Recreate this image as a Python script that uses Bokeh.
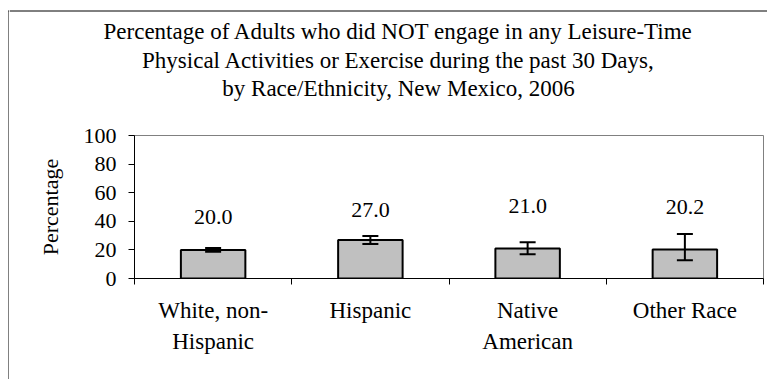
from bokeh.plotting import figure
from bokeh.layouts import row, column
from bokeh.models import (ColumnDataSource, Range1d, FixedTicker, Whisker, TeeHead,
                          LinearAxis)
from bokeh.embed import file_html
from bokeh.resources import INLINE
from bokeh.core.properties import value

# ---------------- data ----------------
categories = ["White, non-\nHispanic", "Hispanic", "Native\nAmerican", "Other Race"]
percentages = [20.0, 27.0, 21.0, 20.2]
ci_lower = [18.7, 24.2, 16.9, 12.7]
ci_upper = [21.3, 29.7, 25.3, 31.2]
y_ticks = [0, 20, 40, 60, 80, 100]
title_lines = [
    "Percentage of Adults who did NOT engage in any Leisure-Time",
    "Physical Activities or Exercise during the past 30 Days,",
    "by Race/Ethnicity, New Mexico, 2006",
]
y_label = "Percentage"

# ---------------- style / layout ----------------
FONT = "Liberation Serif"
W, H = 767, 379
STRIP_W = 9          # left strip holding the outer chart border line
TITLE_H = 110
MAIN_H = H - TITLE_H
COL_W = W - STRIP_W

positions = list(range(len(categories)))
boundaries = [i - 0.5 for i in range(len(categories) + 1)]
label_dy = [-33, -30, -42, -43]   # pixel offsets of value labels above bar tops

src = ColumnDataSource(dict(
    x=positions, top=percentages, lower=ci_lower, upper=ci_upper,
    label=[f"{v:.1f}" for v in percentages], dy=label_dy,
))


def blank_fig(w, h, xr, yr):
    f = figure(width=w, height=h, output_backend="svg", toolbar_location=None,
               x_range=xr, y_range=yr, x_axis_type=None, y_axis_type=None,
               min_border=0, frame_align=False)
    f.outline_line_color = None
    f.background_fill_color = "white"
    f.border_fill_color = "white"
    return f


# --- left strip: outer border (vertical line) ---
strip = blank_fig(STRIP_W, H, Range1d(0, STRIP_W), Range1d(H, 0))
strip.segment(x0=[8.5, 8], y0=[10, 10.5], x1=[8.5, STRIP_W], y1=[H, 10.5],
              line_color="black", line_width=1)

# --- title area ---
tfig = blank_fig(COL_W, TITLE_H, Range1d(STRIP_W, W), Range1d(TITLE_H, 0))
tfig.segment(x0=[STRIP_W], y0=[10.5], x1=[W], y1=[10.5], line_color="black", line_width=1)
tsrc = ColumnDataSource(dict(x=[398] * len(title_lines), y=[30.5, 59.5, 88],
                             text=title_lines))
tfig.text(x="x", y="y", text="text", source=tsrc, text_align="center",
          text_baseline="middle", text_font=value(FONT), text_font_size="23px",
          text_color="black")

# --- main chart ---
p = figure(width=COL_W, height=MAIN_H, output_backend="svg", toolbar_location=None,
           x_range=Range1d(-0.5, len(categories) - 0.5), y_range=Range1d(0, 100),
           x_axis_type=None, y_axis_type=None, frame_align=False,
           min_border_left=125, min_border_right=4, min_border_top=135 - TITLE_H,
           min_border_bottom=MAIN_H - (135 - TITLE_H) - 143)
p.outline_line_color = "#808080"
p.outline_line_width = 1
p.background_fill_color = "white"
p.border_fill_color = "white"

p.vbar(x="x", top="top", bottom=0, width=0.41, source=src,
       fill_color="#C0C0C0", line_color="black", line_width=2)

w = Whisker(base="x", upper="upper", lower="lower", source=src, level="overlay",
            line_color="black", line_width=2,
            upper_head=TeeHead(size=16, line_width=2, line_color="black"),
            lower_head=TeeHead(size=16, line_width=2, line_color="black"))
p.add_layout(w)

p.text(x="x", y="top", text="label", y_offset="dy", source=src,
       text_align="center", text_baseline="middle",
       text_font=value(FONT), text_font_size="22px", text_color="black")

yaxis = LinearAxis(ticker=FixedTicker(ticks=y_ticks), axis_label=y_label)
yaxis.axis_line_color = "black"
yaxis.axis_line_width = 1
yaxis.major_tick_out = 6
yaxis.major_tick_in = 0
yaxis.major_tick_line_color = "black"
yaxis.minor_tick_line_color = None
yaxis.major_label_standoff = 12
yaxis.major_label_text_font = FONT
yaxis.major_label_text_font_size = "22px"
yaxis.major_label_text_color = "black"
yaxis.axis_label_text_font = FONT
yaxis.axis_label_text_font_size = "22px"
yaxis.axis_label_text_font_style = "normal"
yaxis.axis_label_text_color = "black"
yaxis.axis_label_standoff = 18
p.add_layout(yaxis, "left")

xaxis = LinearAxis(ticker=FixedTicker(ticks=positions, minor_ticks=boundaries),
                   major_label_overrides={i: c for i, c in zip(positions, categories)})
xaxis.axis_line_color = "black"
xaxis.axis_line_width = 1
xaxis.major_tick_line_color = None
xaxis.major_tick_out = 0
xaxis.major_tick_in = 0
xaxis.minor_tick_line_color = "black"
xaxis.minor_tick_out = 6
xaxis.minor_tick_in = 0
xaxis.major_label_standoff = 13
xaxis.major_label_text_font = FONT
xaxis.major_label_text_font_size = "23px"
xaxis.major_label_text_color = "black"
xaxis.major_label_text_line_height = 1.27
p.add_layout(xaxis, "below")

layout = row(strip, column(tfig, p))
open("out.html", "w").write(file_html(layout, INLINE))
